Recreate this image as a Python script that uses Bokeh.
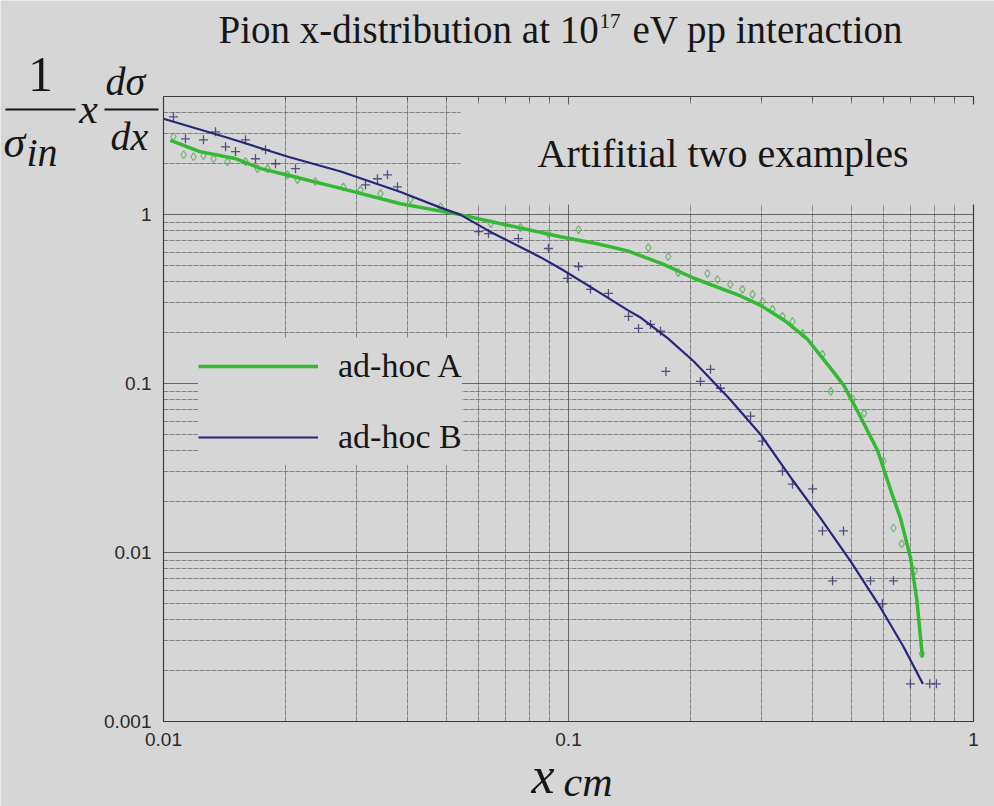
import math
from bokeh.plotting import figure
from bokeh.models import (FixedTicker, LogAxis, Label, BoxAnnotation, Legend, LegendItem,
                          PrintfTickFormatter)
from bokeh.embed import file_html
from bokeh.resources import INLINE

# ---------------- data ----------------
# fitted curve "ad-hoc A" (green)
a_x = [0.0104, 0.0123, 0.0150, 0.0174, 0.0209, 0.0274, 0.0385, 0.0540, 0.0642, 0.0955,
       0.117, 0.140, 0.170, 0.204, 0.266, 0.298, 0.321, 0.345, 0.389, 0.444,
       0.478, 0.497, 0.520, 0.580, 0.630, 0.660, 0.699, 0.725, 0.748]
a_y = [2.75, 2.36, 2.15, 1.87, 1.68, 1.43, 1.16, 1.00, 0.91, 0.74,
       0.675, 0.61, 0.513, 0.42, 0.33, 0.29, 0.26, 0.232, 0.183, 0.123,
       0.098, 0.082, 0.067, 0.040, 0.022, 0.016, 0.0093, 0.0052, 0.0024]

# fitted curve "ad-hoc B" (navy)
b_x = [0.0100, 0.0144, 0.0174, 0.0203, 0.0274, 0.0385, 0.0483, 0.0540, 0.0642, 0.0852,
       0.0955, 0.113, 0.140, 0.151, 0.176, 0.204, 0.250, 0.298, 0.359, 0.419,
       0.497, 0.590, 0.670, 0.750]
b_y = [3.69, 2.85, 2.47, 2.20, 1.80, 1.36, 1.10, 1.00, 0.79, 0.56,
       0.48, 0.375, 0.272, 0.245, 0.185, 0.135, 0.081, 0.050, 0.0265, 0.016,
       0.0089, 0.0047, 0.0028, 0.00167]

# simulated points for A (open diamonds)
pa_x = [0.01058, 0.01121, 0.01186, 0.01255, 0.01329, 0.01439, 0.01594, 0.01707, 0.01807, 0.02024,
        0.02142, 0.02371, 0.02780, 0.03064, 0.03433, 0.04074, 0.04831, 0.06425, 0.07612, 0.0892,
        0.1059, 0.1574, 0.1763, 0.1866, 0.2203, 0.2332, 0.2509, 0.2688, 0.2847, 0.3013,
        0.3190, 0.3375, 0.3573, 0.3783, 0.4238, 0.4442, 0.5036, 0.5368, 0.5996, 0.6345,
        0.6647, 0.7158, 0.7454]
pa_y = [2.89, 2.26, 2.20, 2.23, 2.14, 2.06, 2.06, 1.87, 1.87, 1.72,
        1.61, 1.57, 1.46, 1.40, 1.33, 1.23, 1.11, 0.885, 0.838, 0.772,
        0.815, 0.638, 0.565, 0.454, 0.448, 0.413, 0.386, 0.361, 0.337, 0.306,
        0.275, 0.250, 0.233, 0.198, 0.149, 0.090, 0.0808, 0.0668, 0.0348, 0.01397,
        0.01124, 0.00778, 0.00252]

# simulated points for B (crosses)
pb_x = [0.01058, 0.01133, 0.01255, 0.01344, 0.01423, 0.01506, 0.01594, 0.01687, 0.01786, 0.01890,
        0.02118, 0.03153, 0.03375, 0.03573, 0.03782, 0.05998, 0.06345, 0.0752, 0.0892, 0.0994,
        0.1059, 0.1133, 0.1255, 0.1407, 0.1489, 0.1594, 0.1687, 0.1740, 0.2118, 0.2242,
        0.2373, 0.2815, 0.3013, 0.3375, 0.3573, 0.4005, 0.4238, 0.4775, 0.4487, 0.5568,
        0.6345, 0.5957, 0.6987, 0.7800, 0.8100]
pb_y = [3.79, 2.81, 2.77, 3.09, 2.52, 2.36, 2.77, 2.14, 2.42, 2.00,
        1.87, 1.50, 1.63, 1.72, 1.46, 0.794, 0.772, 0.721, 0.630, 0.419,
        0.493, 0.361, 0.3415, 0.2497, 0.212, 0.224, 0.204, 0.118, 0.103, 0.1215,
        0.0938, 0.0641, 0.0456, 0.0303, 0.0254, 0.0238, 0.01342, 0.01342, 0.0068, 0.0068,
        0.0068, 0.00497, 0.00167, 0.00167, 0.00167]

x_lim = (0.01, 1.0)
y_lim = (0.001, 5.0)
x_ticks = [0.01, 0.1, 1.0]
x_tick_labels = ["0.01", "0.1", "1"]
x_minor = [0.02, 0.03, 0.04, 0.05, 0.06, 0.07, 0.08, 0.09,
           0.2, 0.3, 0.4, 0.5, 0.6, 0.7, 0.8, 0.9]
y_ticks = [0.001, 0.01, 0.1, 1.0]
y_tick_labels = ["0.001", "0.01", "0.1", "1"]
y_minor = [0.002, 0.003, 0.004, 0.005, 0.006, 0.007, 0.008, 0.009,
           0.02, 0.03, 0.04, 0.05, 0.06, 0.07, 0.08, 0.09,
           0.2, 0.3, 0.4, 0.5, 0.6, 0.7, 0.8, 0.9, 2, 3, 4]

series_names = ["ad-hoc A", "ad-hoc B"]

# ---------------- layout / style ----------------
W, H = 994, 806
PL, PR, PT, PB = 163, 973, 96, 721          # plotting box on the canvas (pixels)
BG = "#d6d6d6"
GREEN = "#34b934"
NAVY = "#26267a"
SERIF = "Liberation Serif"
SANS = "Liberation Sans"
INK = "#161616"

# the frame fills the whole canvas; ranges are widened so the plotting box lands at PL..PR, PT..PB
lx0, lx1 = math.log10(x_lim[0]), math.log10(x_lim[1])
ly0, ly1 = math.log10(y_lim[0]), math.log10(y_lim[1])
dx_px = (lx1 - lx0) / (PR - PL)
dy_px = (ly1 - ly0) / (PB - PT)
xr = (10 ** (lx0 - PL * dx_px), 10 ** (lx1 + (W - PR) * dx_px))
yr = (10 ** (ly0 - (H - PB) * dy_px), 10 ** (ly1 + PT * dy_px))

p = figure(width=W, height=H, x_axis_type="log", y_axis_type="log",
           x_range=xr, y_range=yr, output_backend="svg", toolbar_location=None,
           min_border=0, min_border_left=0, min_border_right=0,
           min_border_top=0, min_border_bottom=0)
p.background_fill_color = BG
p.border_fill_color = BG
p.outline_line_color = None

xb = p.below[0]
yl = p.left[0]
xb.ticker = FixedTicker(ticks=x_ticks, minor_ticks=x_minor)
yl.ticker = FixedTicker(ticks=y_ticks, minor_ticks=y_minor)
xb.formatter = PrintfTickFormatter(format="%g")
yl.formatter = PrintfTickFormatter(format="%g")
xb.major_label_overrides = dict(zip(x_ticks, x_tick_labels))
yl.major_label_overrides = dict(zip(y_ticks, y_tick_labels))
xb.fixed_location = y_lim[0]
yl.fixed_location = x_lim[0]
xb.bounds = x_lim
yl.bounds = y_lim
for ax in (xb, yl):
    ax.axis_line_color = "#3c3c3c"
    ax.axis_line_width = 1.2
    ax.major_tick_out = 0
    ax.major_tick_in = 0
    ax.minor_tick_out = 0
    ax.minor_tick_in = 0
    ax.major_label_text_font = SANS
    ax.major_label_text_font_size = "19px"
    ax.major_label_text_color = "#2a2a2a"
xb.major_label_standoff = 11
yl.major_label_standoff = 12

top = LogAxis(ticker=FixedTicker(ticks=x_ticks, minor_ticks=x_minor),
              fixed_location=y_lim[1], bounds=x_lim,
              major_label_text_font_size="0px", major_label_text_alpha=0,
              axis_line_color="#3c3c3c", axis_line_width=1.2,
              major_tick_in=6, major_tick_out=0, minor_tick_in=4, minor_tick_out=0,
              major_tick_line_color="#555555", minor_tick_line_color="#555555")
p.add_layout(top, "above")
right = LogAxis(ticker=FixedTicker(ticks=y_ticks, minor_ticks=y_minor),
                fixed_location=x_lim[1], bounds=y_lim,
                major_label_text_font_size="0px", major_label_text_alpha=0,
                axis_line_color="#3c3c3c", axis_line_width=1.2,
                major_tick_in=0, major_tick_out=0, minor_tick_in=0, minor_tick_out=0)
p.add_layout(right, "right")

p.xgrid.bounds = x_lim
p.xgrid.cross_bounds = y_lim
p.ygrid.bounds = y_lim
p.ygrid.cross_bounds = x_lim
p.grid.grid_line_color = "#555555"
p.grid.grid_line_alpha = 0.85
p.grid.minor_grid_line_color = "#666666"
p.grid.minor_grid_line_alpha = 0.75
p.grid.minor_grid_line_dash = "5 1"

# ---------------- glyphs ----------------
p.scatter(pa_x, pa_y, marker="diamond", size=8, fill_color=None,
          line_color="#6aae6a", line_width=1.2, line_alpha=0.9)
p.scatter(pb_x, pb_y, marker="cross", size=9, line_color="#3a3a70",
          line_width=1.3, line_alpha=0.85)
ra = p.line(a_x, a_y, line_color=GREEN, line_width=3.5)
rb = p.line(b_x, b_y, line_color=NAVY, line_width=2.2)

legend = Legend(items=[LegendItem(label=series_names[0], renderers=[ra]),
                       LegendItem(label=series_names[1], renderers=[rb])],
                location=(198, H - 465), orientation="vertical",
                label_text_font=SERIF, label_text_font_size="34px", label_text_color=INK,
                glyph_width=120, glyph_height=56, label_height=56, label_standoff=20,
                spacing=15, padding=10, margin=0,
                background_fill_color=BG, background_fill_alpha=1.0,
                border_line_color=None)
p.add_layout(legend)

# box hiding the grid behind the inner caption
p.add_layout(BoxAnnotation(left=460, right=977, top=104, bottom=204,
                           left_units="canvas", right_units="canvas",
                           top_units="canvas", bottom_units="canvas",
                           fill_color=BG, fill_alpha=1.0, line_color=None))

def lab(x, y, text, size, style="normal", align="left"):
    p.add_layout(Label(x=x, y=y, x_units="canvas", y_units="canvas", text=text,
                       text_font=SERIF, text_font_size=size, text_font_style=style,
                       text_align=align, text_baseline="middle", text_color=INK))

def bar(x0, x1, y):
    p.add_layout(BoxAnnotation(left=x0, right=x1, top=y - 1, bottom=y + 1,
                               left_units="canvas", right_units="canvas",
                               top_units="canvas", bottom_units="canvas",
                               fill_color=INK, fill_alpha=1.0, line_color=None))

# title
lab(218, 29, "Pion x-distribution at 10", "39px")
lab(599, 20, "17", "21px")
lab(632, 29, "eV pp interaction", "39px")

# inner caption
lab(537, 153, "Artifitial two  examples", "40px")

# y-axis label  (1/sigma_in) x (d sigma/dx)
lab(40, 74, "1", "50px", align="center")
bar(5, 75, 109)
lab(3, 142, "σ", "44px", style="italic")
lab(26, 152, "in", "40px", style="italic")
lab(88, 108, "x", "42px", style="italic", align="center")
lab(105, 81, "dσ", "40px", style="italic")
bar(104, 158, 109)
lab(110, 136, "dx", "40px", style="italic")

# x-axis label x_cm
lab(531, 775, "x", "52px", style="italic")
lab(563, 781, "cm", "42px", style="italic")

open("out.html", "w").write(file_html(p, INLINE))
